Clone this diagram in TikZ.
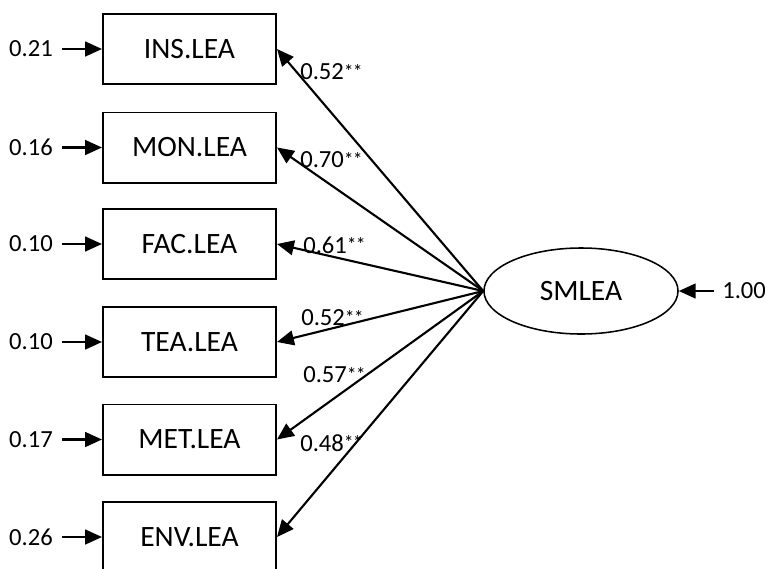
\documentclass[tikz,border=0pt]{standalone}
\usepackage{fontspec}
\setmainfont{Carlito}
\usetikzlibrary{arrows.meta,shapes.geometric}
\newcommand{\sigstar}{{\fontsize{14}{16}\selectfont\raisebox{1pt}{*\kern-0.6pt*}}}
\tikzset{
	obsbox/.style={draw, line width=1.4pt, minimum width=4.325cm, minimum height=1.75cm, inner sep=0pt, font=\fontsize{21}{25}\selectfont},
	latent/.style={draw, ellipse, line width=1.1pt, minimum width=4.85cm, minimum height=2.15cm, inner sep=0pt, font=\fontsize{21}{25}\selectfont},
	errlbl/.style={inner ysep=2pt, inner xsep=6.3pt, font=\fontsize{17.5}{21}\selectfont},
	coef/.style={anchor=west, inner sep=0pt, font=\fontsize{17.5}{21}\selectfont},
	arr/.style={line width=1.5pt, -{Triangle[length=12pt,width=10.5pt]}}
}

\begin{document}
\begin{tikzpicture}[x=0.025cm, y=-0.025cm]
			%%%%% START %%%%%
			\useasboundingbox (0, 0) rectangle (765, 568);
			
			\node[obsbox] (ins) at (189.5, 49) {INS.LEA};
			\node[obsbox] (mon) at (189.5, 147.5) {MON.LEA};
			\node[obsbox] (fac) at (189.5, 244) {FAC.LEA};
			\node[obsbox] (tea) at (189.5, 342) {TEA.LEA};
			\node[obsbox] (met) at (189.5, 439.5) {MET.LEA};
			\node[obsbox] (env) at (189.5, 537) {ENV.LEA};
			
			\node[latent] (smlea) at (581, 291) {SMLEA};
			
			% error terms
			\node[errlbl, anchor=east] (eins) at (62, 49) {0.21};
			\node[errlbl, anchor=east] (emon) at (62, 147.5) {0.16};
			\node[errlbl, anchor=east] (efac) at (62, 244) {0.10};
			\node[errlbl, anchor=east] (etea) at (62, 342) {0.10};
			\node[errlbl, anchor=east] (emet) at (62, 439.5) {0.17};
			\node[errlbl, anchor=east] (eenv) at (62, 537) {0.26};
			\node[errlbl, anchor=west, inner xsep=5.7pt] (esml) at (714, 291) {1.00};
			
			\draw[arr] (eins) -- (ins);
			\draw[arr] (emon) -- (mon);
			\draw[arr] (efac) -- (fac);
			\draw[arr] (etea) -- (tea);
			\draw[arr] (emet) -- (met);
			\draw[arr] (eenv) -- (env);
			\draw[arr] (esml) -- (smlea);
			
			% loadings
			\draw[arr] (smlea.west) -- (ins.east);
			\draw[arr] (smlea.west) -- (mon.east);
			\draw[arr] (smlea.west) -- (fac.east);
			\draw[arr] (smlea.west) -- (tea.east);
			\draw[arr] (smlea.west) -- (met.east);
			\draw[arr] (smlea.west) -- (env.east);
			
			\node[coef] (lins) at (300, 72) {0.52\sigstar};
			\node[coef] (lmon) at (300, 160) {0.70\sigstar};
			\node[coef] (lfac) at (303, 245) {0.61\sigstar};
			\node[coef] (ltea) at (301, 318) {0.52\sigstar};
			\node[coef] (lmet) at (303, 375) {0.57\sigstar};
			\node[coef] (lenv) at (300, 443) {0.48\sigstar};
			
			%%%%% END %%%%%
		\end{tikzpicture}
\end{document}
